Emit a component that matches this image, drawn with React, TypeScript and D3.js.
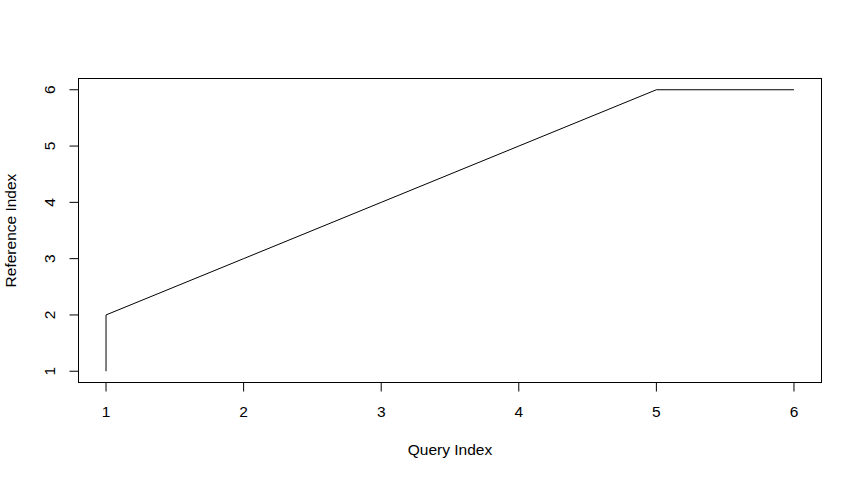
import React from "react";
import * as d3 from "d3";

const queryIndex = [1, 1, 2, 3, 4, 5, 6];
const referenceIndex = [1, 2, 3, 4, 5, 6, 6];
const xTicks = [1, 2, 3, 4, 5, 6];
const yTicks = [1, 2, 3, 4, 5, 6];

const W = 862, H = 481;
const L = 78.5, R = 821.5, T = 78.5, B = 382.5;
const FONT = "'Liberation Sans', Arial, Helvetica, sans-serif";
const FS = 15.5;
const TICK = 9;

export default function App() {
  const x = d3.scaleLinear().domain([0.8, 6.2]).range([L, R]);
  const y = d3.scaleLinear().domain([0.8, 6.2]).range([B, T]);
  const pts = queryIndex.map((q, i) => [q, referenceIndex[i]] as [number, number]);
  const line = d3.line<[number, number]>().x(d => x(d[0])).y(d => y(d[1]));
  return (
    <svg width={W} height={H} style={{ position: "absolute", left: 0, top: 0, background: "#fff" }}>
      <rect x={0} y={0} width={W} height={H} fill="#fff" />
      <path d={line(pts) || ""} fill="none" stroke="#000" strokeWidth={1} />
      <rect x={L} y={T} width={R - L} height={B - T} fill="none" stroke="#000" strokeWidth={1} />
      {/* x axis */}
      <line x1={x(xTicks[0])} x2={x(xTicks[xTicks.length - 1])} y1={B} y2={B} stroke="#000" />
      {xTicks.map(t => (
        <g key={"x" + t}>
          <line x1={x(t)} x2={x(t)} y1={B} y2={B + TICK} stroke="#000" />
          <text x={x(t)} y={417} textAnchor="middle" fontFamily={FONT} fontSize={FS}>{t}</text>
        </g>
      ))}
      {/* y axis */}
      <line x1={L} x2={L} y1={y(yTicks[0])} y2={y(yTicks[yTicks.length - 1])} stroke="#000" />
      {yTicks.map(t => (
        <g key={"y" + t}>
          <line x1={L} x2={L - TICK} y1={y(t)} y2={y(t)} stroke="#000" />
          <text transform={`translate(55,${y(t)}) rotate(-90)`} textAnchor="middle" fontFamily={FONT} fontSize={FS}>{t}</text>
        </g>
      ))}
      <text x={(L + R) / 2} y={455} textAnchor="middle" fontFamily={FONT} fontSize={FS}>Query Index</text>
      <text transform={`translate(16,${(T + B) / 2}) rotate(-90)`} textAnchor="middle" fontFamily={FONT} fontSize={FS}>Reference Index</text>
    </svg>
  );
}
